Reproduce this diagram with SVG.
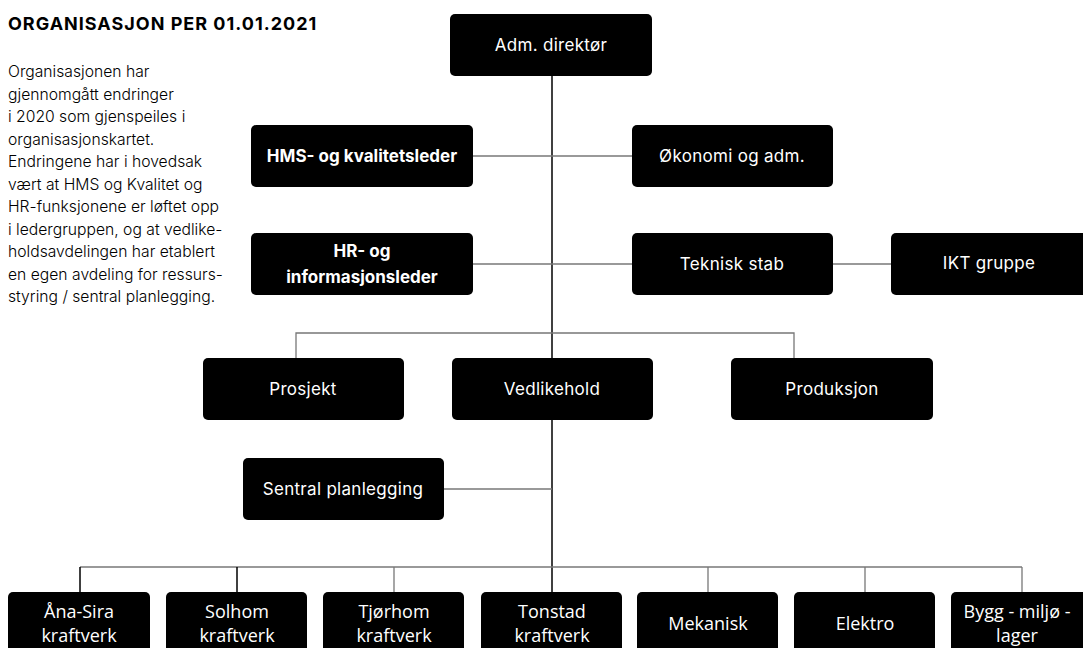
<svg xmlns="http://www.w3.org/2000/svg" width="1083" height="648" viewBox="0 0 1083 648">
<style>
.box{fill:#000;}
.t{font-family:Inter,"Liberation Sans",sans-serif;font-size:17px;fill:#fff;text-anchor:middle;letter-spacing:0.3px;}
.tb{font-family:Inter,"Liberation Sans",sans-serif;font-size:17px;font-weight:700;fill:#fff;text-anchor:middle;}
.tk{font-family:"Open Sans","Noto Sans",sans-serif;font-size:18px;fill:#fff;text-anchor:middle;}
.title{font-family:Inter,"Liberation Sans",sans-serif;font-size:18px;font-weight:700;fill:#000;letter-spacing:1px;}
.p{font-family:Inter,"Liberation Sans",sans-serif;font-size:15.7px;font-weight:300;fill:#000;}
.c{stroke:#777;stroke-width:1.3;fill:none;}
.m{stroke:#000;stroke-width:1.5;fill:none;}
</style>
<rect width="1083" height="648" fill="#fff"/>
<text class="title" x="8" y="30">ORGANISASJON PER 01.01.2021</text>
<text class="p" x="8" y="77">
<tspan x="8" y="77">Organisasjonen har</tspan>
<tspan x="8" y="99.5">gjennomgått endringer</tspan>
<tspan x="8" y="122">i 2020 som gjenspeiles i</tspan>
<tspan x="8" y="144.5">organisasjonskartet.</tspan>
<tspan x="8" y="167">Endringene har i hovedsak</tspan>
<tspan x="8" y="189.5">vært at HMS og Kvalitet og</tspan>
<tspan x="8" y="212">HR-funksjonene er løftet opp</tspan>
<tspan x="8" y="234.5">i ledergruppen, og at vedlike-</tspan>
<tspan x="8" y="257">holdsavdelingen har etablert</tspan>
<tspan x="8" y="279.5">en egen avdeling for ressurs-</tspan>
<tspan x="8" y="302">styring / sentral planlegging.</tspan>
</text>
<g id="connectors">
<line class="m" x1="552" y1="76" x2="552" y2="592"/>
<line class="c" x1="473" y1="156" x2="632" y2="156"/>
<line class="c" x1="473" y1="264" x2="632" y2="264"/>
<line class="c" x1="833" y1="264" x2="891" y2="264"/>
<polyline class="c" points="296,358 296,333 794,333 794,358"/>
<line class="c" x1="444" y1="489" x2="552" y2="489"/>
<line class="c" x1="80" y1="567" x2="1022" y2="567"/>
<line class="m" x1="80" y1="567" x2="80" y2="592"/>
<line class="m" x1="237" y1="567" x2="237" y2="592"/>
<line class="c" x1="394" y1="567" x2="394" y2="592"/>
<line class="c" x1="708" y1="567" x2="708" y2="592"/>
<line class="c" x1="865" y1="567" x2="865" y2="592"/>
<line class="c" x1="1022" y1="567" x2="1022" y2="592"/>
</g>
<g id="adm"><rect class="box" x="450" y="14" width="202" height="62" rx="5"/><text class="t" x="551" y="51">Adm. direktør</text></g>
<g id="hms"><rect class="box" x="251" y="125" width="222" height="62" rx="5"/><text class="tb" x="362" y="162">HMS- og kvalitetsleder</text></g>
<g id="okonomi"><rect class="box" x="632" y="125" width="201" height="62" rx="5"/><text class="t" x="732" y="162">Økonomi og adm.</text></g>
<g id="hr"><rect class="box" x="251" y="233" width="222" height="62" rx="5"/><text class="tb" x="362" y="257">HR- og</text><text class="tb" x="362" y="283">informasjonsleder</text></g>
<g id="teknisk"><rect class="box" x="632" y="233" width="201" height="62" rx="5"/><text class="t" x="732" y="270">Teknisk stab</text></g>
<g id="ikt"><rect class="box" x="891" y="233" width="200" height="62" rx="5"/><text class="t" x="989" y="269">IKT gruppe</text></g>
<g id="prosjekt"><rect class="box" x="203" y="358" width="201" height="62" rx="5"/><text class="t" x="303" y="395">Prosjekt</text></g>
<g id="vedlikehold"><rect class="box" x="452" y="358" width="201" height="62" rx="5"/><text class="t" x="552" y="395">Vedlikehold</text></g>
<g id="produksjon"><rect class="box" x="731" y="358" width="202" height="62" rx="5"/><text class="t" x="832" y="395">Produksjon</text></g>
<g id="sentral"><rect class="box" x="243" y="458" width="201" height="62" rx="5"/><text class="t" x="343" y="495">Sentral planlegging</text></g>
<g id="anasira"><rect class="box" x="8" y="592" width="142" height="70" rx="5"/><text class="tk" x="79" y="618">Åna-Sira</text><text class="tk" x="79" y="642">kraftverk</text></g>
<g id="solhom"><rect class="box" x="166" y="592" width="141" height="70" rx="5"/><text class="tk" x="237" y="618">Solhom</text><text class="tk" x="237" y="642">kraftverk</text></g>
<g id="tjorhom"><rect class="box" x="323" y="592" width="141" height="70" rx="5"/><text class="tk" x="394" y="618">Tjørhom</text><text class="tk" x="394" y="642">kraftverk</text></g>
<g id="tonstad"><rect class="box" x="481" y="592" width="141" height="70" rx="5"/><text class="tk" x="552" y="618">Tonstad</text><text class="tk" x="552" y="642">kraftverk</text></g>
<g id="mekanisk"><rect class="box" x="637" y="592" width="141" height="70" rx="5"/><text class="tk" x="708" y="630">Mekanisk</text></g>
<g id="elektro"><rect class="box" x="794" y="592" width="141" height="70" rx="5"/><text class="tk" x="865" y="630">Elektro</text></g>
<g id="bygg"><rect class="box" x="951" y="592" width="141" height="70" rx="5"/><text class="tk" x="1017" y="618">Bygg - miljø -</text><text class="tk" x="1017" y="642">lager</text></g>
</svg>
